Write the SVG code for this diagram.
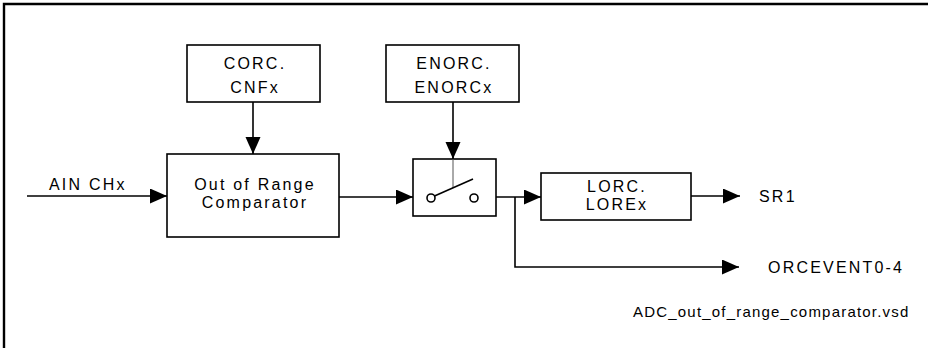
<svg xmlns="http://www.w3.org/2000/svg" width="928" height="348" viewBox="0 0 928 348">
<style>
.box{fill:#fff;stroke:#000;stroke-width:1.6}
.ln{fill:none;stroke:#000;stroke-width:1.6}
.t{font-family:"Liberation Sans",Arial,sans-serif;font-size:16px;fill:#000;letter-spacing:2.2px}
.c{text-anchor:middle}
.s{font-family:"Liberation Sans",Arial,sans-serif;font-size:15px;fill:#000;letter-spacing:1.2px}
</style>
<defs>
<marker id="ah" markerUnits="userSpaceOnUse" markerWidth="18" markerHeight="16" refX="17" refY="7.5" orient="auto">
<path d="M0,0 L17,7.5 L0,15 z" fill="#000"/>
</marker>
</defs>
<rect width="928" height="348" fill="#fff"/>
<g id="frame">
<path d="M4,348 V4 H928" fill="none" stroke="#000" stroke-width="2.4"/>
</g>
<g id="connectors">
<line class="ln" x1="27" y1="196" x2="167" y2="196" marker-end="url(#ah)"/>
<line class="ln" x1="253" y1="102" x2="253" y2="154" marker-end="url(#ah)"/>
<line class="ln" x1="339" y1="197" x2="413" y2="197" marker-end="url(#ah)"/>
<line class="ln" x1="453" y1="102" x2="453" y2="159" marker-end="url(#ah)"/>
<line class="ln" x1="478" y1="197" x2="541" y2="197" marker-end="url(#ah)"/>
<polyline class="ln" points="515,197 515,267 739,267" marker-end="url(#ah)"/>
<line class="ln" x1="691" y1="196" x2="740" y2="196" marker-end="url(#ah)"/>
</g>
<g id="corc">
<rect class="box" x="187" y="45" width="133" height="57"/>
<text class="t c" x="255" y="69">CORC.</text>
<text class="t c" x="255" y="93">CNFx</text>
</g>
<g id="enorc">
<rect class="box" x="386" y="45" width="133" height="57"/>
<text class="t c" x="454" y="69">ENORC.</text>
<text class="t c" x="454" y="93">ENORCx</text>
</g>
<g id="comparator">
<rect class="box" x="167" y="154" width="172" height="83"/>
<text class="t c" x="255" y="190">Out of Range</text>
<text class="t c" x="255" y="208">Comparator</text>
</g>
<g id="switch">
<rect class="box" x="413" y="159" width="83" height="57"/>
<line x1="453" y1="159" x2="453" y2="188" stroke="#555" stroke-width="1"/>
<line x1="434.5" y1="196" x2="473" y2="179" stroke="#000" stroke-width="1.6"/>
<circle cx="431" cy="198" r="4" fill="#fff" stroke="#000" stroke-width="1.6"/>
<circle cx="474" cy="198" r="4" fill="#fff" stroke="#000" stroke-width="1.6"/>
</g>
<g id="lorc">
<rect class="box" x="541" y="173" width="150" height="47"/>
<text class="t c" x="617" y="192">LORC.</text>
<text class="t c" x="617" y="210">LOREx</text>
</g>
<g id="labels">
<text class="t" x="49" y="190">AIN CHx</text>
<text class="t" x="759" y="202">SR1</text>
<text class="t" x="768" y="273">ORCEVENT0-4</text>
<text class="s" x="633" y="317">ADC_out_of_range_comparator.vsd</text>
</g>
</svg>
